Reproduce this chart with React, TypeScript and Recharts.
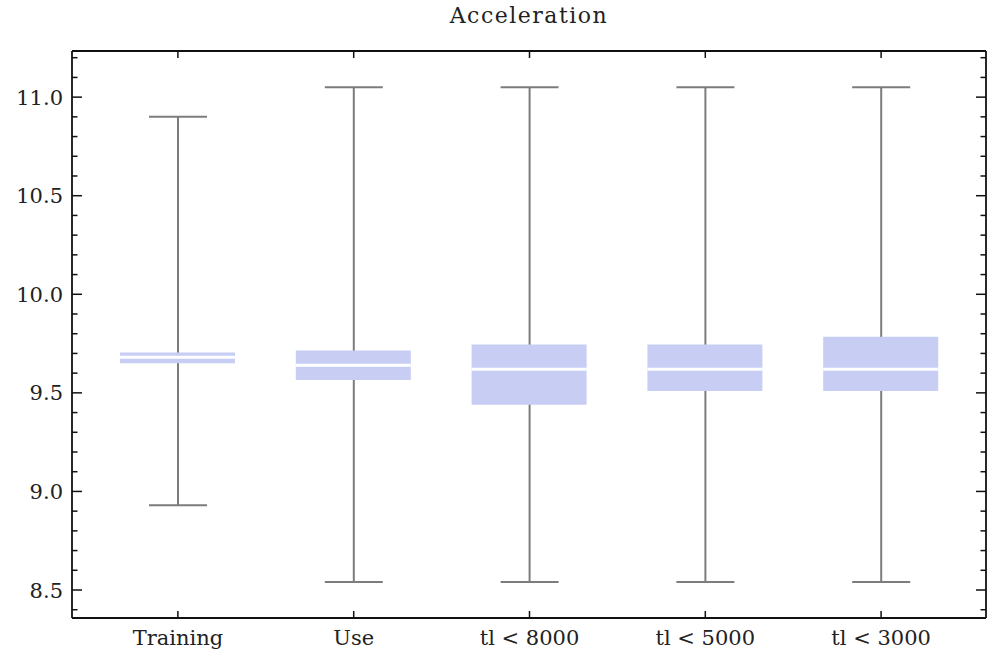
import { ComposedChart, Bar, XAxis, YAxis } from "recharts";

const categories = ["Training", "Use", "tl < 8000", "tl < 5000", "tl < 3000"];
const whiskerLow = [8.93, 8.54, 8.54, 8.54, 8.54];
const whiskerHigh = [10.9, 11.05, 11.05, 11.05, 11.05];
const boxLow = [9.65, 9.565, 9.44, 9.51, 9.51];
const boxHigh = [9.705, 9.715, 9.745, 9.745, 9.785];
const medians = [9.68, 9.64, 9.62, 9.62, 9.62];

const yTicks = [
  8.4, 8.5, 8.6, 8.7, 8.8, 8.9, 9.0, 9.1, 9.2, 9.3, 9.4, 9.5, 9.6, 9.7, 9.8,
  9.9, 10.0, 10.1, 10.2, 10.3, 10.4, 10.5, 10.6, 10.7, 10.8, 10.9, 11.0, 11.1,
  11.2,
];
const xTicks = categories;

const data = categories.map((name, i) => ({
  name,
  whisker: [whiskerLow[i], whiskerHigh[i]],
  box: [boxLow[i], boxHigh[i]],
  median: [medians[i], medians[i]],
}));

const FONT = "'DejaVu Serif', serif";
const TEXT = "#222";
const FRAME = "#111";
const X_PAD = { left: 18, right: 17 };

const isMajor = (v: number) => Math.abs(v * 2 - Math.round(v * 2)) < 1e-6;

function LeftTick({ x, y, payload }: any) {
  const ax = x + 9;
  const major = isMajor(payload.value);
  return (
    <g>
      <line x1={ax} x2={ax + (major ? 10 : 5.5)} y1={y} y2={y} stroke={FRAME} strokeWidth={1.5} />
      {major && (
        <text x={x} y={y} dy="0.36em" textAnchor="end" fontFamily={FONT} fontSize={21} fill={TEXT}>
          {payload.value.toFixed(1)}
        </text>
      )}
    </g>
  );
}

function RightTick({ x, y, payload }: any) {
  const major = isMajor(payload.value);
  return <line x1={x} x2={x - (major ? 10 : 5.5)} y1={y} y2={y} stroke={FRAME} strokeWidth={1.5} />;
}

function BottomTick({ x, y, payload }: any) {
  const ay = y - 12;
  return (
    <g>
      <line x1={x} x2={x} y1={ay} y2={ay - 7} stroke={FRAME} strokeWidth={1.5} />
      <text x={x} y={y} dy="0.71em" textAnchor="middle" fontFamily={FONT} fontSize={21} fill={TEXT}>
        {payload.value}
      </text>
    </g>
  );
}

function TopTick({ x, y }: any) {
  return <line x1={x} x2={x} y1={y} y2={y + 7} stroke={FRAME} strokeWidth={1.5} />;
}

function WhiskerShape({ x, y, width, height }: any) {
  const cx = x + width / 2;
  return (
    <g stroke="#7c7c7c" strokeWidth={2}>
      <line x1={cx} x2={cx} y1={y} y2={y + height} />
      <line x1={x} x2={x + width} y1={y} y2={y} />
      <line x1={x} x2={x + width} y1={y + height} y2={y + height} />
    </g>
  );
}

function MedianShape({ x, y, width }: any) {
  return <line x1={x} x2={x + width} y1={y} y2={y} stroke="#ffffff" strokeWidth={3} />;
}

export default function App() {
  return (
    <div style={{ position: "absolute", left: 0, top: 0, width: 999, height: 656, background: "#fff" }}>
      <div
        style={{
          position: "absolute",
          left: 72,
          width: 914,
          top: 3,
          textAlign: "center",
          fontFamily: FONT,
          fontSize: 22,
          letterSpacing: 1.5,
          color: TEXT,
        }}
      >
        Acceleration
      </div>
      <ComposedChart
        width={999}
        height={656}
        data={data}
        margin={{ top: 50, right: 12, bottom: 0, left: 0 }}
      >
        <XAxis
          xAxisId="b"
          dataKey="name"
          orientation="bottom"
          height={38}
          padding={X_PAD}
          ticks={xTicks}
          interval={0}
          tickSize={0}
          tickMargin={12}
          tick={<BottomTick />}
          axisLine={{ stroke: FRAME, strokeWidth: 1.8 }}
        />
        <XAxis
          xAxisId="t"
          dataKey="name"
          orientation="top"
          height={1}
          padding={X_PAD}
          ticks={xTicks}
          interval={0}
          tickSize={0}
          tickMargin={0}
          tick={<TopTick />}
          axisLine={{ stroke: FRAME, strokeWidth: 1.8 }}
        />
        <XAxis xAxisId="m" dataKey="name" hide padding={X_PAD} />
        <YAxis
          yAxisId="l"
          type="number"
          domain={[8.358, 11.234]}
          ticks={yTicks}
          interval={0}
          allowDataOverflow
          width={72}
          tickSize={0}
          tickMargin={9}
          tick={<LeftTick />}
          axisLine={{ stroke: FRAME, strokeWidth: 1.8 }}
        />
        <YAxis
          yAxisId="r"
          orientation="right"
          type="number"
          domain={[8.358, 11.234]}
          ticks={yTicks}
          interval={0}
          allowDataOverflow
          width={1}
          tickSize={0}
          tickMargin={0}
          tick={<RightTick />}
          axisLine={{ stroke: FRAME, strokeWidth: 1.8 }}
        />
        <Bar
          xAxisId="b"
          yAxisId="l"
          dataKey="whisker"
          barSize={58}
          shape={<WhiskerShape />}
          isAnimationActive={false}
        />
        <Bar
          xAxisId="t"
          yAxisId="l"
          dataKey="box"
          barSize={115}
          fill="#c8cdf4"
          isAnimationActive={false}
        />
        <Bar
          xAxisId="m"
          yAxisId="l"
          dataKey="median"
          barSize={115}
          shape={<MedianShape />}
          isAnimationActive={false}
        />
      </ComposedChart>
    </div>
  );
}
